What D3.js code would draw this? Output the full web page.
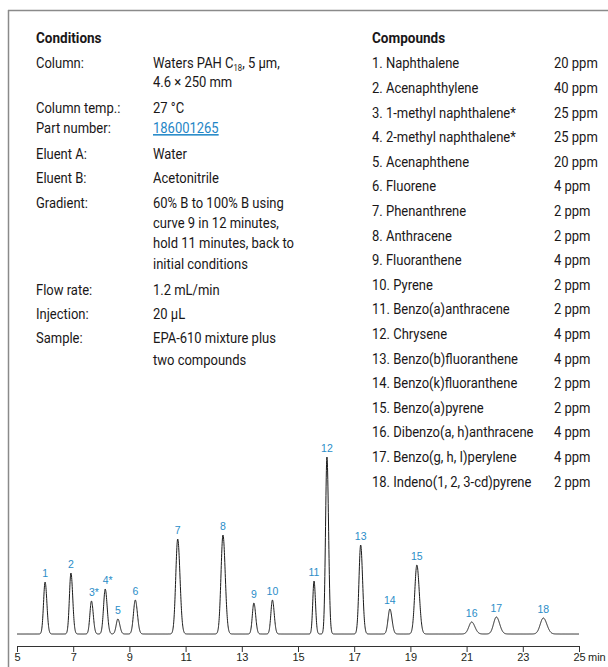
<!DOCTYPE html>
<html>
<head>
<meta charset="utf-8">
<script src="https://cdn.jsdelivr.net/npm/d3@7"></script>
<style>
  html, body { margin: 0; padding: 0; background: #fff; }
  svg { display: block; }
  .txt { font-family: "Roboto", "Liberation Sans", sans-serif; font-size: 15.2px; fill: #1a1718; }
  .hdr { font-weight: bold; }
  .lbl { font-family: "Liberation Sans", Arial, sans-serif; font-size: 10.5px; fill: #2a8dc8; }
</style>
</head>
<body>
<svg id="chart" width="608" height="667"></svg>
<script>
// ---------- data ----------
const conditionLabels = ["Column:", "Column temp.:", "Part number:", "Eluent A:", "Eluent B:", "Gradient:", "Flow rate:", "Injection:", "Sample:"];
const conditionValues = [
  ["Waters PAH C|18|, 5 µm,", "4.6 × 250 mm"],
  ["27 °C"],
  ["186001265"],
  ["Water"],
  ["Acetonitrile"],
  ["60% B to 100% B using", "curve 9 in 12 minutes,", "hold 11 minutes, back to", "initial conditions"],
  ["1.2 mL/min"],
  ["20 µL"],
  ["EPA-610 mixture plus", "two compounds"]
];
const compounds = ["1. Naphthalene", "2. Acenaphthylene", "3. 1-methyl naphthalene*", "4. 2-methyl naphthalene*", "5. Acenaphthene", "6. Fluorene", "7. Phenanthrene", "8. Anthracene", "9. Fluoranthene", "10. Pyrene", "11. Benzo(a)anthracene", "12. Chrysene", "13. Benzo(b)fluoranthene", "14. Benzo(k)fluoranthene", "15. Benzo(a)pyrene", "16. Dibenzo(a, h)anthracene", "17. Benzo(g, h, I)perylene", "18. Indeno(1, 2, 3-cd)pyrene"];
const concentrations = ["20 ppm", "40 ppm", "25 ppm", "25 ppm", "20 ppm", "4 ppm", "2 ppm", "2 ppm", "4 ppm", "2 ppm", "2 ppm", "4 ppm", "4 ppm", "2 ppm", "2 ppm", "4 ppm", "4 ppm", "2 ppm"];

// chromatogram peaks (retention time in min, height in a.u., width sigma in min)
const peakLabels = ["1", "2", "3*", "4*", "5", "6", "7", "8", "9", "10", "11", "12", "13", "14", "15", "16", "17", "18"];
const peakTimes   = [6.00, 6.92, 7.65, 8.14, 8.59, 9.21, 10.72, 12.33, 13.43, 14.09, 15.57, 16.03, 17.23, 18.27, 19.23, 21.18, 22.06, 23.73];
const peakHeights = [52, 61, 33, 45, 15, 34, 95, 99, 31, 34, 53, 177, 89, 25, 69, 12, 17, 16];
const peakWidths  = [0.055, 0.055, 0.055, 0.06, 0.06, 0.065, 0.07, 0.07, 0.055, 0.055, 0.045, 0.05, 0.06, 0.065, 0.075, 0.1, 0.1, 0.11];
const xTicks = [5, 7, 9, 11, 13, 15, 17, 19, 21, 23, 25];

// ---------- drawing ----------
const svg = d3.select("#chart");
const SX = 0.855, SXB = 0.89; // horizontal condensing of the panel font

function ctext(x, y, cls, sx) {
  return svg.append("text").attr("class", cls)
    .attr("transform", `translate(${x},${y}) scale(${sx || SX},1)`);
}

// frame
svg.append("line").attr("x1", 8).attr("x2", 608).attr("y1", 10.5).attr("y2", 10.5)
  .attr("stroke", "#8a8a8a").attr("stroke-width", 1.5);
svg.append("line").attr("x1", 8.5).attr("x2", 8.5).attr("y1", 10).attr("y2", 667)
  .attr("stroke", "#8a8a8a").attr("stroke-width", 1.5);

// conditions block (layout: baseline of each row)
ctext(36, 43, "txt hdr", SXB).text("Conditions");
const rowY = [68, 113, 133, 159, 183, 208, 295, 319, 343];
const lineGap = 20.2;
conditionLabels.forEach((lab, i) => {
  const y = rowY[i];
  ctext(36, y, "txt").text(lab);
  conditionValues[i].forEach((line, j) => {
    const t = ctext(153, y + j * (i === 0 ? 18.8 : i === 8 ? 21.5 : lineGap), "txt");
    if (line.includes("|")) {
      const parts = line.split("|");
      t.append("tspan").text(parts[0]);
      t.append("tspan").attr("font-size", "9px").attr("dy", 3).text(parts[1]);
      t.append("tspan").attr("dy", -3).text(parts[2]);
    } else if (lab === "Part number:") {
      t.style("fill", "#1f86c6").attr("text-decoration", "underline").text(line);
    } else {
      t.text(line);
    }
  });
});

// compounds block
ctext(372, 43, "txt hdr", SXB).text("Compounds");
compounds.forEach((c, i) => {
  ctext(372, 68.3 + i * 24.6, "txt").text(c);
  ctext(554, 68.3 + i * 24.6, "txt").text(concentrations[i]);
});

// chromatogram
const x = d3.scaleLinear().domain([5, 25]).range([17, 579]);
const yS = d3.scaleLinear().domain([0, 200]).range([634, 434]);

const signal = t => d3.sum(peakTimes, (rt, i) => {
  const s = peakWidths[i] * (t > rt ? 1.15 : 1);
  return peakHeights[i] * Math.exp(-0.5 * ((t - rt) / s) ** 2);
});
const ts = d3.range(5, 25.0001, 0.005);
const line = d3.line().x(t => x(t)).y(t => yS(signal(t)));
svg.append("path").datum(ts).attr("d", line)
  .attr("fill", "none").attr("stroke", "#1a1a1a").attr("stroke-width", 1);

// peak labels
peakLabels.forEach((lab, i) => {
  const off = lab.includes("*") ? 2.5 : 0;
  svg.append("text").attr("class", "lbl").attr("text-anchor", "middle")
    .attr("x", x(peakTimes[i]) + off).attr("y", yS(peakHeights[i]) - 5).text(lab);
});

// axis
const axis = d3.axisBottom(x).tickValues(xTicks).tickFormat(d3.format("d")).tickSize(6).tickSizeOuter(0);
const g = svg.append("g").attr("transform", "translate(0,646)").call(axis);
g.select(".domain").attr("stroke", "#333");
g.selectAll(".tick line").attr("stroke", "#333");
g.selectAll(".tick text").attr("dy", 0).attr("y", 15)
  .style("font-family", "Liberation Sans, Arial, sans-serif").style("font-size", "11px").style("fill", "#231f20");
svg.append("text").attr("x", 588).attr("y", 661)
  .style("font-family", "Liberation Sans, Arial, sans-serif").style("font-size", "11px").style("fill", "#231f20").text("min");
</script>
</body>
</html>
